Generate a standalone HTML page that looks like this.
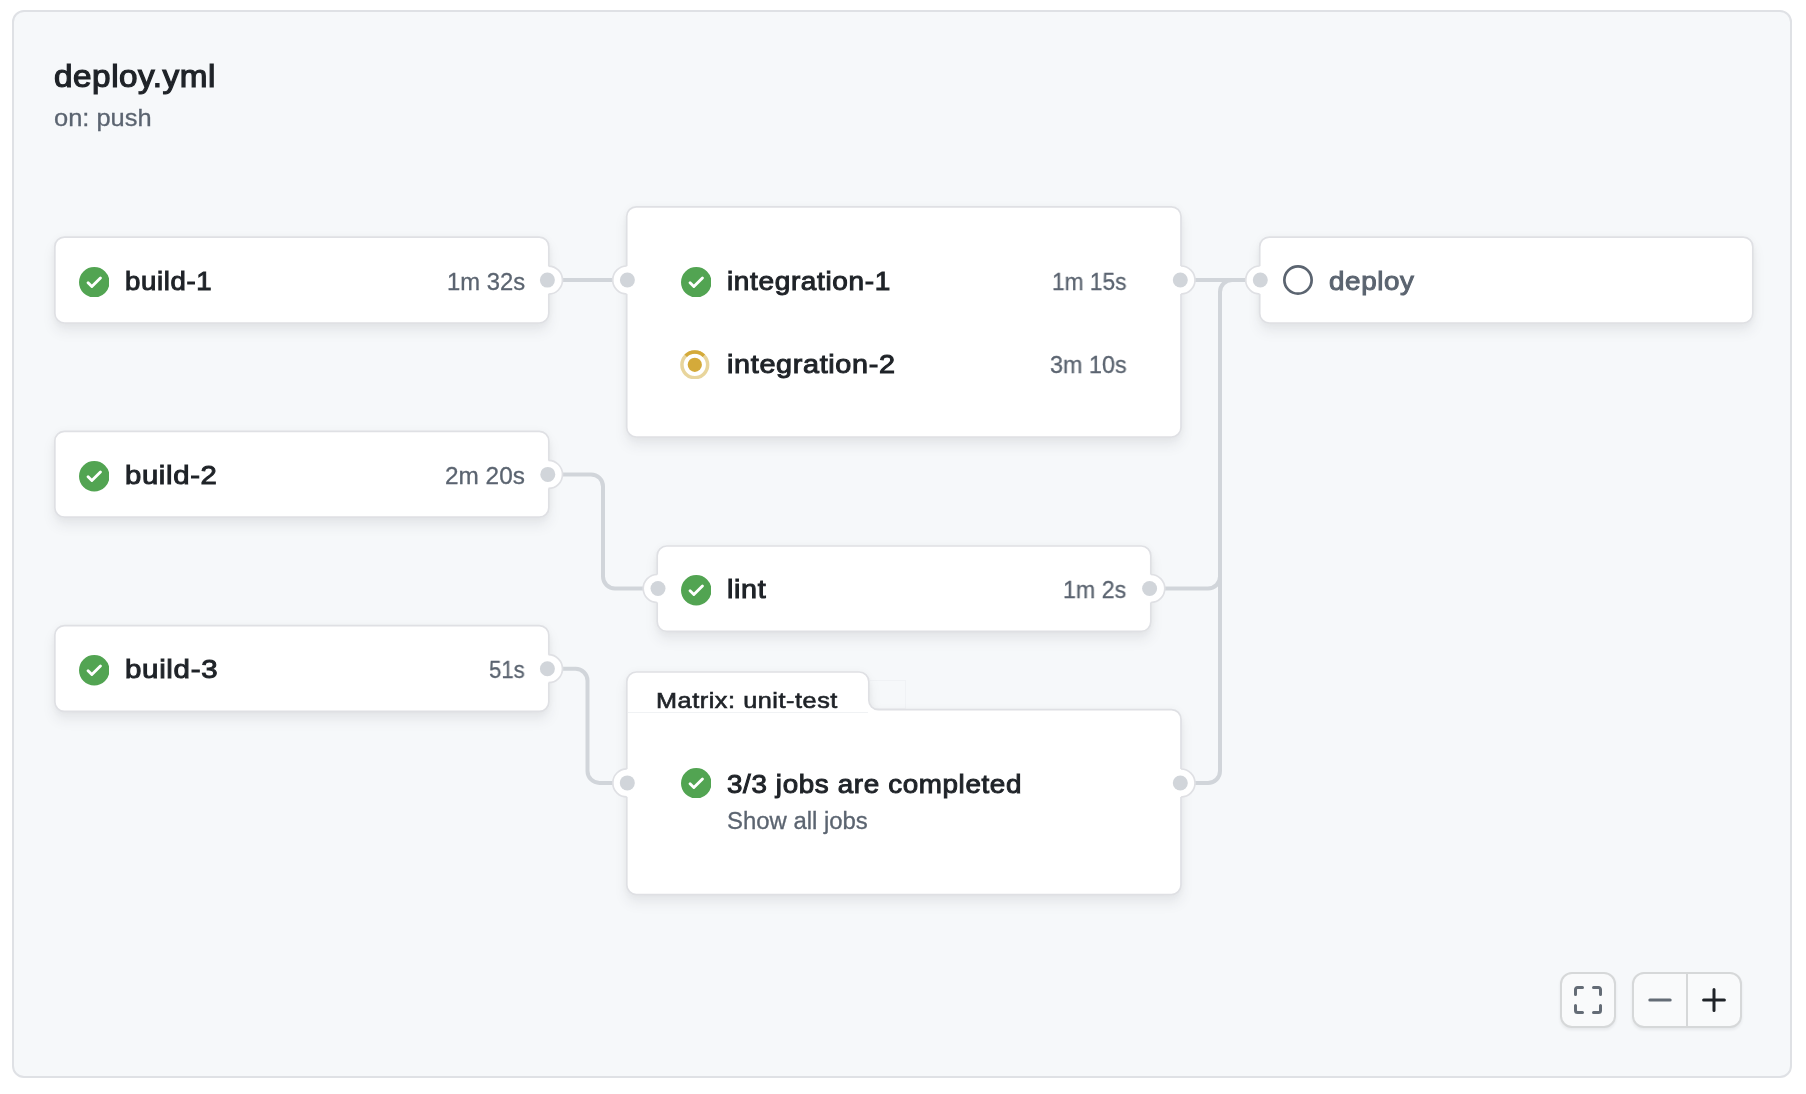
<!DOCTYPE html>
<html>
<head>
<meta charset="utf-8">
<title>deploy.yml</title>
<style>
html,body{margin:0;padding:0;background:#ffffff;width:1806px;height:1094px;overflow:hidden;}
body{font-family:"Liberation Sans",sans-serif;position:relative;}
.canvas{position:absolute;left:12px;top:10px;width:1780px;height:1068px;box-sizing:border-box;border:2px solid #dfe1e5;border-radius:12px;background:#f6f8fa;}
.t{position:absolute;white-space:nowrap;line-height:1;will-change:transform;}
.ico{position:absolute;}
svg.full{position:absolute;left:0;top:0;}
.btn{position:absolute;box-sizing:border-box;border:2px solid #d6d8d9;border-radius:12px;background:#f9fafb;box-shadow:0 2px 3px rgba(31,35,40,0.07);}
</style>
</head>
<body>
<div class="canvas"></div>
<div style="position:absolute;left:870px;top:680px;width:36px;height:29px;box-sizing:border-box;border:1px solid #f0f2f5;border-left:0;"></div>
<svg class="full" width="1806" height="1094"><defs><filter id="sh" filterUnits="userSpaceOnUse" x="0" y="0" width="1806" height="1094" color-interpolation-filters="sRGB"><feGaussianBlur in="SourceAlpha" stdDeviation="6" result="b1"/><feOffset in="b1" dy="8" result="o1"/><feFlood flood-color="#1f2328" flood-opacity="0.07"/><feComposite in2="o1" operator="in" result="s1"/><feGaussianBlur in="SourceAlpha" stdDeviation="3" result="b2"/><feFlood flood-color="#1f2328" flood-opacity="0.035"/><feComposite in2="b2" operator="in" result="s2"/><feMerge><feMergeNode in="s1"/><feMergeNode in="s2"/><feMergeNode in="SourceGraphic"/></feMerge></filter></defs><g filter="url(#sh)" fill="#fff" stroke="#dfe0e4" stroke-width="1.7"><rect x="54.85" y="237.15" width="493.95" height="85.85" rx="9.5" ry="9.5"/><rect x="54.85" y="431.35" width="493.95" height="85.85" rx="9.5" ry="9.5"/><rect x="54.85" y="625.55" width="493.95" height="85.85" rx="9.5" ry="9.5"/><rect x="626.7" y="206.8" width="554.30" height="230.20" rx="9.5" ry="9.5"/><rect x="657.2" y="546" width="493.60" height="85.30" rx="9.5" ry="9.5"/><rect x="1259.7" y="237.15" width="493.10" height="85.85" rx="9.5" ry="9.5"/><path d="M626.8,681.5 A9.5,9.5 0 0 1 636.3,672 H859.3 A9.5,9.5 0 0 1 868.8,681.5 V700.1 A9.5,9.5 0 0 0 878.3,709.6 H1171.5 A9.5,9.5 0 0 1 1181,719.1 V885 A9.5,9.5 0 0 1 1171.5,894.5 H636.3 A9.5,9.5 0 0 1 626.8,885 Z"/></g></svg>
<div style="position:absolute;left:628px;top:712px;width:240px;height:1px;background:#f0f2f4;"></div>
<svg class="full" width="1806" height="1094"><g fill="none" stroke="#d1d5da" stroke-width="4"><path d="M547.4,280 H627.4"/><path d="M1180.3,280 H1260.3"/><path d="M547.8,474.4 H591 A12,12 0 0 1 603,486.4 V576.5 A12,12 0 0 0 615,588.5 H658"/><path d="M547.4,668.7 H575.5 A12,12 0 0 1 587.5,680.7 V770.9 A12,12 0 0 0 599.5,782.9 H627.3"/><path d="M1149.6,588.5 H1208 A12,12 0 0 0 1220,576.5 V292 A12,12 0 0 1 1232,280 H1260.3"/><path d="M1180.3,783 H1208 A12,12 0 0 0 1220,771 V292"/></g><circle cx="548.5" cy="280.1" r="14.0" fill="#fff"/><path d="M548.5,266.1 A14.0,14.0 0 0 1 548.5,294.1" fill="none" stroke="#dfe0e4" stroke-width="1.7"/><circle cx="547.4" cy="280.1" r="7.5" fill="#d1d5da"/>
<circle cx="548.5" cy="474.4" r="14.0" fill="#fff"/><path d="M548.5,460.4 A14.0,14.0 0 0 1 548.5,488.4" fill="none" stroke="#dfe0e4" stroke-width="1.7"/><circle cx="547.8" cy="474.4" r="7.5" fill="#d1d5da"/>
<circle cx="548.5" cy="668.7" r="14.0" fill="#fff"/><path d="M548.5,654.7 A14.0,14.0 0 0 1 548.5,682.7" fill="none" stroke="#dfe0e4" stroke-width="1.7"/><circle cx="547.4" cy="668.7" r="7.5" fill="#d1d5da"/>
<circle cx="626.7" cy="280" r="14.0" fill="#fff"/><path d="M626.7,266.0 A14.0,14.0 0 0 0 626.7,294.0" fill="none" stroke="#dfe0e4" stroke-width="1.7"/><circle cx="627.4" cy="280" r="7.5" fill="#d1d5da"/>
<circle cx="1181" cy="280" r="14.0" fill="#fff"/><path d="M1181,266.0 A14.0,14.0 0 0 1 1181,294.0" fill="none" stroke="#dfe0e4" stroke-width="1.7"/><circle cx="1180.3" cy="280" r="7.5" fill="#d1d5da"/>
<circle cx="1259.7" cy="280" r="14.0" fill="#fff"/><path d="M1259.7,266.0 A14.0,14.0 0 0 0 1259.7,294.0" fill="none" stroke="#dfe0e4" stroke-width="1.7"/><circle cx="1260.3" cy="280" r="7.5" fill="#d1d5da"/>
<circle cx="657.2" cy="588.5" r="14.0" fill="#fff"/><path d="M657.2,574.5 A14.0,14.0 0 0 0 657.2,602.5" fill="none" stroke="#dfe0e4" stroke-width="1.7"/><circle cx="658" cy="588.5" r="7.5" fill="#d1d5da"/>
<circle cx="1150.8" cy="588.5" r="14.0" fill="#fff"/><path d="M1150.8,574.5 A14.0,14.0 0 0 1 1150.8,602.5" fill="none" stroke="#dfe0e4" stroke-width="1.7"/><circle cx="1149.6" cy="588.5" r="7.5" fill="#d1d5da"/>
<circle cx="626.8" cy="782.9" r="14.0" fill="#fff"/><path d="M626.8,768.9 A14.0,14.0 0 0 0 626.8,796.9" fill="none" stroke="#dfe0e4" stroke-width="1.7"/><circle cx="627.3" cy="782.9" r="7.5" fill="#d1d5da"/>
<circle cx="1181" cy="783" r="14.0" fill="#fff"/><path d="M1181,769.0 A14.0,14.0 0 0 1 1181,797.0" fill="none" stroke="#dfe0e4" stroke-width="1.7"/><circle cx="1180.3" cy="783" r="7.5" fill="#d1d5da"/>
</svg>
<svg class="ico" style="left:78.75px;top:266.65px" width="30.5" height="30.5" viewBox="0 0 16 16"><path fill="#52a452" d="M8 16A8 8 0 1 1 8 0a8 8 0 0 1 0 16Zm3.78-9.72a.751.751 0 0 0-.018-1.042.751.751 0 0 0-1.042-.018L6.75 9.19 5.28 7.72a.751.751 0 0 0-1.042.018.751.751 0 0 0-.018 1.042l2 2a.75.75 0 0 0 1.06 0Z"/></svg>
<svg class="ico" style="left:78.75px;top:461.00px" width="30.5" height="30.5" viewBox="0 0 16 16"><path fill="#52a452" d="M8 16A8 8 0 1 1 8 0a8 8 0 0 1 0 16Zm3.78-9.72a.751.751 0 0 0-.018-1.042.751.751 0 0 0-1.042-.018L6.75 9.19 5.28 7.72a.751.751 0 0 0-1.042.018.751.751 0 0 0-.018 1.042l2 2a.75.75 0 0 0 1.06 0Z"/></svg>
<svg class="ico" style="left:78.75px;top:655.35px" width="30.5" height="30.5" viewBox="0 0 16 16"><path fill="#52a452" d="M8 16A8 8 0 1 1 8 0a8 8 0 0 1 0 16Zm3.78-9.72a.751.751 0 0 0-.018-1.042.751.751 0 0 0-1.042-.018L6.75 9.19 5.28 7.72a.751.751 0 0 0-1.042.018.751.751 0 0 0-.018 1.042l2 2a.75.75 0 0 0 1.06 0Z"/></svg>
<svg class="ico" style="left:680.95px;top:266.75px" width="30.5" height="30.5" viewBox="0 0 16 16"><path fill="#52a452" d="M8 16A8 8 0 1 1 8 0a8 8 0 0 1 0 16Zm3.78-9.72a.751.751 0 0 0-.018-1.042.751.751 0 0 0-1.042-.018L6.75 9.19 5.28 7.72a.751.751 0 0 0-1.042.018.751.751 0 0 0-.018 1.042l2 2a.75.75 0 0 0 1.06 0Z"/></svg>
<svg class="ico" style="left:680.10px;top:349.50px" width="29.6" height="29.6" viewBox="0 0 16 16"><circle cx="8" cy="8" r="6.95" fill="none" stroke="#e8d59c" stroke-width="1.9"/><path d="M3.09 3.09 A6.95 6.95 0 0 1 12.91 3.09" fill="none" stroke="#d4aa3a" stroke-width="1.9"/><circle cx="8" cy="8" r="3.85" fill="#d4aa3a"/></svg>
<svg class="ico" style="left:680.95px;top:575.35px" width="30.5" height="30.5" viewBox="0 0 16 16"><path fill="#52a452" d="M8 16A8 8 0 1 1 8 0a8 8 0 0 1 0 16Zm3.78-9.72a.751.751 0 0 0-.018-1.042.751.751 0 0 0-1.042-.018L6.75 9.19 5.28 7.72a.751.751 0 0 0-1.042.018.751.751 0 0 0-.018 1.042l2 2a.75.75 0 0 0 1.06 0Z"/></svg>
<svg class="ico" style="left:680.95px;top:767.75px" width="30.5" height="30.5" viewBox="0 0 16 16"><path fill="#52a452" d="M8 16A8 8 0 1 1 8 0a8 8 0 0 1 0 16Zm3.78-9.72a.751.751 0 0 0-.018-1.042.751.751 0 0 0-1.042-.018L6.75 9.19 5.28 7.72a.751.751 0 0 0-1.042.018.751.751 0 0 0-.018 1.042l2 2a.75.75 0 0 0 1.06 0Z"/></svg>
<svg class="ico" style="left:1282.15px;top:263.90px" width="32" height="32" viewBox="0 0 32 32"><circle cx="16" cy="16" r="13.65" fill="none" stroke="#5b6470" stroke-width="2.7"/></svg>
<div class="t" style="left:53.71px;top:61.40px;font-size:31.2px;font-weight:400;color:#1f2328;transform:scaleX(1.0674);transform-origin:0 0;-webkit-text-stroke:1.2px #1f2328;letter-spacing:0.5px">deploy.yml</div>
<div class="t" style="left:53.54px;top:105.85px;font-size:24.0px;font-weight:400;color:#5b6470;transform:scaleX(1.0599);transform-origin:0 0;-webkit-text-stroke:0.3px #5b6470;letter-spacing:0px">on: push</div>
<div class="t" style="left:124.86px;top:267.50px;font-size:26.2px;font-weight:400;color:#1f2328;transform:scaleX(1.0540);transform-origin:0 0;-webkit-text-stroke:1.0px #1f2328;letter-spacing:0.6px">build-1</div>
<div class="t" style="left:124.79px;top:461.50px;font-size:26.2px;font-weight:400;color:#1f2328;transform:scaleX(1.1168);transform-origin:0 0;-webkit-text-stroke:1.0px #1f2328;letter-spacing:0.6px">build-2</div>
<div class="t" style="left:124.78px;top:655.50px;font-size:26.2px;font-weight:400;color:#1f2328;transform:scaleX(1.1257);transform-origin:0 0;-webkit-text-stroke:1.0px #1f2328;letter-spacing:0.6px">build-3</div>
<div class="t" style="left:446.94px;top:269.85px;font-size:23.8px;font-weight:400;color:#5b6470;transform:scaleX(0.9951);transform-origin:0 0;-webkit-text-stroke:0.3px #5b6470;letter-spacing:0px">1m 32s</div>
<div class="t" style="left:444.75px;top:463.85px;font-size:23.8px;font-weight:400;color:#5b6470;transform:scaleX(1.0234);transform-origin:0 0;-webkit-text-stroke:0.3px #5b6470;letter-spacing:0px">2m 20s</div>
<div class="t" style="left:488.80px;top:657.85px;font-size:23.8px;font-weight:400;color:#5b6470;transform:scaleX(0.9307);transform-origin:0 0;-webkit-text-stroke:0.3px #5b6470;letter-spacing:0px">51s</div>
<div class="t" style="left:726.92px;top:267.50px;font-size:26.2px;font-weight:400;color:#1f2328;transform:scaleX(1.0684);transform-origin:0 0;-webkit-text-stroke:1.0px #1f2328;letter-spacing:0.6px">integration-1</div>
<div class="t" style="left:726.88px;top:350.50px;font-size:26.2px;font-weight:400;color:#1f2328;transform:scaleX(1.0995);transform-origin:0 0;-webkit-text-stroke:1.0px #1f2328;letter-spacing:0.6px">integration-2</div>
<div class="t" style="left:1051.91px;top:269.85px;font-size:23.8px;font-weight:400;color:#5b6470;transform:scaleX(0.9529);transform-origin:0 0;-webkit-text-stroke:0.3px #5b6470;letter-spacing:0px">1m 15s</div>
<div class="t" style="left:1049.77px;top:352.85px;font-size:23.8px;font-weight:400;color:#5b6470;transform:scaleX(0.9805);transform-origin:0 0;-webkit-text-stroke:0.3px #5b6470;letter-spacing:0px">3m 10s</div>
<div class="t" style="left:726.96px;top:575.50px;font-size:26.2px;font-weight:400;color:#1f2328;transform:scaleX(1.0967);transform-origin:0 0;-webkit-text-stroke:1.0px #1f2328;letter-spacing:0.6px">lint</div>
<div class="t" style="left:1063.37px;top:577.85px;font-size:23.8px;font-weight:400;color:#5b6470;transform:scaleX(0.9738);transform-origin:0 0;-webkit-text-stroke:0.3px #5b6470;letter-spacing:0px">1m 2s</div>
<div class="t" style="left:656.37px;top:690.27px;font-size:22.6px;font-weight:400;color:#1f2328;transform:scaleX(1.1167);transform-origin:0 0;-webkit-text-stroke:0.65px #1f2328;letter-spacing:0.5px">Matrix: unit-test</div>
<div class="t" style="left:727.43px;top:770.50px;font-size:26.2px;font-weight:400;color:#1f2328;transform:scaleX(1.0606);transform-origin:0 0;-webkit-text-stroke:1.0px #1f2328;letter-spacing:0.6px">3/3 jobs are completed</div>
<div class="t" style="left:726.68px;top:809.85px;font-size:23.0px;font-weight:400;color:#5b6470;transform:scaleX(1.0387);transform-origin:0 0;-webkit-text-stroke:0.3px #5b6470;letter-spacing:0px">Show all jobs</div>
<div class="t" style="left:1329.33px;top:267.50px;font-size:26.2px;font-weight:400;color:#5b6470;transform:scaleX(1.0597);transform-origin:0 0;-webkit-text-stroke:1.0px #5b6470;letter-spacing:0.6px">deploy</div>
<div class="btn" style="left:1560px;top:972px;width:56px;height:56px;"></div>
<div class="btn" style="left:1632px;top:972px;width:110px;height:56px;"></div>
<div style="position:absolute;left:1686px;top:974px;width:2px;height:52px;background:#d6d8d9;"></div>
<svg class="ico" style="left:1572px;top:984px" width="32" height="32" viewBox="0 0 16 16"><path fill="#646c76" d="M1.75 10a.75.75 0 0 1 .75.75v2.5c0 .138.112.25.25.25h2.5a.75.75 0 0 1 0 1.5h-2.5A1.75 1.75 0 0 1 1 13.25v-2.5a.75.75 0 0 1 .75-.75Zm12.5 0a.75.75 0 0 1 .75.75v2.5A1.75 1.75 0 0 1 13.25 15h-2.5a.75.75 0 0 1 0-1.5h2.5a.25.25 0 0 0 .25-.25v-2.5a.75.75 0 0 1 .75-.75ZM2.75 2.5a.25.25 0 0 0-.25.25v2.5a.75.75 0 0 1-1.5 0v-2.5C1 1.784 1.784 1 2.75 1h2.5a.75.75 0 0 1 0 1.5ZM10.75 1h2.5c.966 0 1.75.784 1.75 1.75v2.5a.75.75 0 0 1-1.5 0v-2.5a.25.25 0 0 0-.25-.25h-2.5a.75.75 0 0 1 0-1.5Z"/></svg>
<svg class="ico" style="left:1640px;top:980px" width="40" height="40" viewBox="0 0 40 40"><path d="M9.8 20 H30.2" stroke="#646c76" stroke-width="3" stroke-linecap="round"/></svg>
<svg class="ico" style="left:1694px;top:980px" width="40" height="40" viewBox="0 0 40 40"><path d="M9.6 20 H30.4 M20 9.4 V30.6" stroke="#1f2328" stroke-width="3" stroke-linecap="round"/></svg>
</body>
</html>
